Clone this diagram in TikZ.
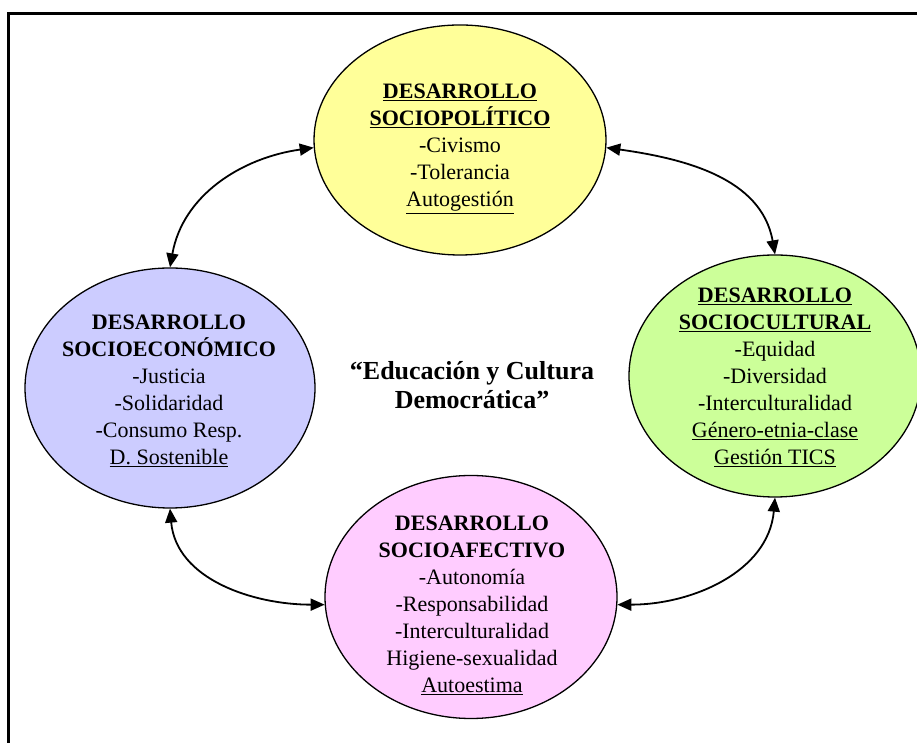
\documentclass[tikz,border=0pt]{standalone}
\usepackage{fontspec}
\setmainfont{Liberation Serif}
\usetikzlibrary{shapes.geometric,arrows.meta}
\definecolor{cyel}{HTML}{FFFF99}
\definecolor{cblu}{HTML}{CCCCFF}
\definecolor{cgrn}{HTML}{CCFF99}
\definecolor{cpnk}{HTML}{FFCCFF}
\begin{document}
\begin{tikzpicture}[x=1pt,y=1pt,
  bubble/.style={ellipse, draw=black, line width=1.3pt, inner sep=0pt},
  txt/.style={align=center, font=\fontsize{22}{27}\selectfont, inner sep=0pt},
  ctxt/.style={align=center, font=\fontsize{26}{29}\selectfont\bfseries, inner sep=0pt},
  link/.style={line width=1.8pt, {Triangle[length=14pt,width=12pt]}-{Triangle[length=14pt,width=12pt]}},
]
\useasboundingbox (0,0) rectangle (917,743);
\clip (0,0) rectangle (917,743);
\draw[line width=3pt] (8,0) -- (8,729) -- (917,729);

\node[bubble, fill=cyel, minimum width=292pt, minimum height=230pt] (yel) at (460,603) {};
\node[bubble, fill=cblu, minimum width=290pt, minimum height=240pt] (blu) at (170,355) {};
\node[bubble, fill=cgrn, minimum width=292pt, minimum height=242pt] (grn) at (775,367) {};
\node[bubble, fill=cpnk, minimum width=292pt, minimum height=243pt] (pnk) at (471,146) {};

\node[txt] (yelt) at (460,594) {\textbf{\underline{DESARROLLO}}\\\textbf{\underline{SOCIOPOLÍTICO}}\\-Civismo\\-Tolerancia\\\underline{Autogestión}};
\node[txt] (blut) at (169,352) {\textbf{DESARROLLO}\\\textbf{SOCIOECONÓMICO}\\-Justicia\\-Solidaridad\\-Consumo Resp.\\\underline{D. Sostenible}};
\node[txt] (grnt) at (775,366) {\textbf{\underline{DESARROLLO}}\\\textbf{\underline{SOCIOCULTURAL}}\\-Equidad\\-Diversidad\\-Interculturalidad\\\underline{Género-etnia-clase}\\\underline{Gestión TICS}};
\node[txt] (pnkt) at (472,138) {\textbf{DESARROLLO}\\\textbf{SOCIOAFECTIVO}\\-Autonomía\\-Responsabilidad\\-Interculturalidad\\Higiene-sexualidad\\\underline{Autoestima}};

\node[ctxt] (ctr) at (472,358) {“Educación y Cultura\\Democrática”};

\draw[link] (yel.183) to[out=188,in=80] (blu.north);
\draw[link] (yel.357) to[out=-8,in=100] (grn.north);
\draw[link] (blu.south) to[out=-85,in=180] (pnk.183);
\draw[link] (pnk.357) to[out=0,in=-95] (grn.south);
\end{tikzpicture}
\end{document}
